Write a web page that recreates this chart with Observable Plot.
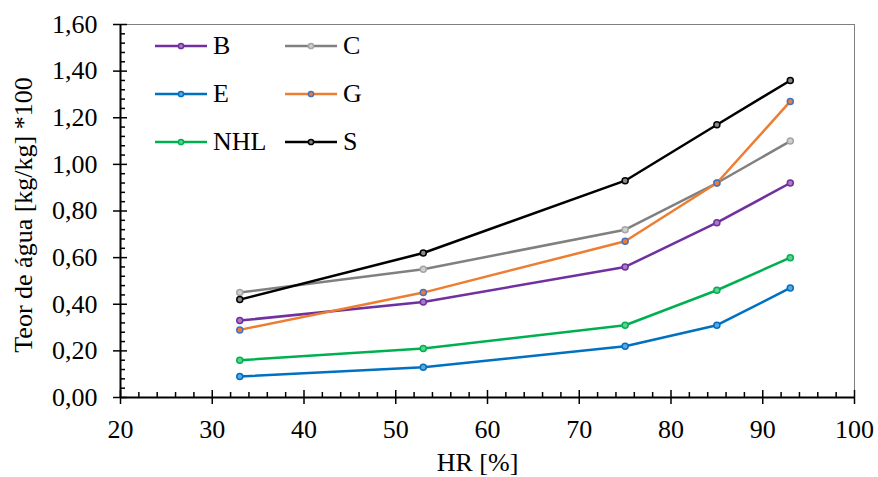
<!DOCTYPE html>
<html>
<head>
<meta charset="utf-8">
<script src="https://cdn.jsdelivr.net/npm/d3@7"></script>
<script src="https://cdn.jsdelivr.net/npm/@observablehq/plot@0.6"></script>
<style>
  html, body { margin: 0; padding: 0; background: #fff; }
  #wrap { position: relative; width: 878px; height: 477px; }
  #wrap svg, #wrap svg text { font-family: "Liberation Serif", "Times New Roman", serif !important; }
  #legend {
    position: absolute; left: 155px; top: 21.5px;
    display: grid; grid-template-columns: 130px auto;
    font-family: "Liberation Serif", "Times New Roman", serif; font-size: 26px; color: #000;
  }
  #legend .item { display: flex; align-items: center; height: 48.3px; }
  #legend svg { display: block; margin-right: 6px; }
</style>
</head>
<body>
<div id="wrap"><div id="legend"></div></div>
<script>
// Relative humidity levels (%)
const hr = [33, 53, 75, 85, 93];

// Water content (kg/kg *100) for each mortar
const seriesNames = ["B", "C", "E", "G", "NHL", "S"];
const valuesB   = [0.33, 0.41, 0.56, 0.75, 0.92];
const valuesC   = [0.45, 0.55, 0.72, 0.92, 1.10];
const valuesE   = [0.09, 0.13, 0.22, 0.31, 0.47];
const valuesG   = [0.29, 0.45, 0.67, 0.92, 1.27];
const valuesNHL = [0.16, 0.21, 0.31, 0.46, 0.60];
const valuesS   = [0.42, 0.62, 0.93, 1.17, 1.36];

const lineColors   = ["#7030A0", "#808080", "#0070C0", "#ED7D31", "#00B050", "#000000"];
const markerStroke = ["#7030A0", "#A5A5A5", "#0070C0", "#4472C4", "#00B050", "#000000"];
const markerFill   = ["#A77BC7", "#CFCFCF", "#5FA6DD", "#ED7D31", "#5FD18F", "#8A8A8A"];

const allValues = [valuesB, valuesC, valuesE, valuesG, valuesNHL, valuesS];

// Axis titles
const xTitle = ["HR [%]"];
const yTitle = ["Teor de água [kg/kg] *100"];

// Axis ticks
const xMajor = d3.range(20, 101, 10);
const xMinor = d3.range(20, 101, 2).filter(d => d % 10 !== 0);
const yMajor = d3.range(0, 9).map(i => i * 0.2);
const yMinor = d3.range(0, 41).filter(i => i % 5 !== 0).map(i => i * 0.04);

const fmtY = d => d.toFixed(2).replace(".", ",");
const blank = () => "";

const seriesMarks = seriesNames.flatMap((name, k) => {
  const rows = hr.map((h, i) => ({hr: h, v: allValues[k][i]}));
  return [
    Plot.line(rows, {x: "hr", y: "v", stroke: lineColors[k], strokeWidth: 2.5}),
    Plot.dot(rows, {x: "hr", y: "v", r: 3, stroke: markerStroke[k], fill: markerFill[k], strokeWidth: 1.5})
  ];
});

const chart = Plot.plot({
  width: 878,
  height: 477,
  marginLeft: 120,
  marginRight: 24,
  marginTop: 24,
  marginBottom: 80,
  x: {domain: [20, 100]},
  y: {domain: [0, 1.6]},
  style: "font-family: 'Liberation Serif', 'Times New Roman', serif; font-size: 26px; color: #000; background: #fff;",
  marks: [
    Plot.frame({stroke: "#7f7f7f", strokeWidth: 1}),
    // y axis: outer ticks with labels, inner tick halves and minor ticks
    Plot.axisY(yMajor, {tickSize: 7, tickPadding: 16, tickFormat: fmtY, strokeWidth: 1.5, label: null}),
    Plot.axisY(yMajor, {tickSize: -7, tickFormat: blank, strokeWidth: 1.5, label: null}),
    Plot.axisY(yMinor, {tickSize: -5, tickFormat: blank, strokeWidth: 1.5, label: null}),
    // x axis
    Plot.axisX(xMajor, {tickSize: 7, tickPadding: 15, tickFormat: d => String(d), strokeWidth: 1.5, label: null}),
    Plot.axisX(xMajor, {tickSize: -7, tickFormat: blank, strokeWidth: 1.5, label: null}),
    Plot.axisX(xMinor, {tickSize: -5, tickFormat: blank, strokeWidth: 1.5, label: null}),
    Plot.ruleX([20], {stroke: "#000", strokeWidth: 2}),
    Plot.ruleY([0], {stroke: "#000", strokeWidth: 2}),
    // axis titles
    Plot.text(yTitle, {text: d => d, frameAnchor: "left", rotate: -90, dx: -97, dy: 4, fontSize: 26,
      textAnchor: "middle", lineAnchor: "middle"}),
    Plot.text(xTitle, {text: d => d, frameAnchor: "bottom", dx: -10, dy: 65, fontSize: 26,
      textAnchor: "middle", lineAnchor: "middle"}),
    ...seriesMarks
  ]
});

document.getElementById("wrap").prepend(chart);

// Legend: two columns, three rows
const legend = d3.select("#legend");
seriesNames.forEach((name, k) => {
  const item = legend.append("div").attr("class", "item");
  const svg = item.append("svg").attr("width", 52).attr("height", 12);
  svg.append("line").attr("x1", 0).attr("x2", 52).attr("y1", 6).attr("y2", 6)
    .attr("stroke", lineColors[k]).attr("stroke-width", 2.5);
  svg.append("circle").attr("cx", 26).attr("cy", 6).attr("r", 2.6)
    .attr("stroke", markerStroke[k]).attr("fill", markerFill[k]).attr("stroke-width", 1.5);
  item.append("span").text(name);
});
</script>
</body>
</html>
